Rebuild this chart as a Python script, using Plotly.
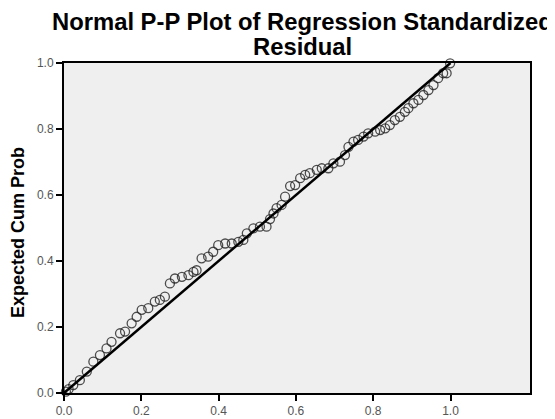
import plotly.graph_objects as go

# Observed cumulative probability (x) and expected cumulative probability (y)
observed_cum_prob = [
    0.005, 0.012, 0.024, 0.041, 0.059, 0.076, 0.093, 0.110, 0.123, 0.145,
    0.158, 0.175, 0.188, 0.201, 0.218, 0.235, 0.248, 0.261, 0.274, 0.287,
    0.305, 0.322, 0.335, 0.343, 0.356, 0.373, 0.386, 0.399, 0.417, 0.434,
    0.451, 0.464, 0.473, 0.490, 0.507, 0.524, 0.533, 0.542, 0.550, 0.563,
    0.572, 0.585, 0.598, 0.611, 0.624, 0.636, 0.654, 0.667, 0.684, 0.697,
    0.714, 0.727, 0.736, 0.749, 0.761, 0.775, 0.787, 0.805, 0.818, 0.831,
    0.843, 0.856, 0.869, 0.882, 0.891, 0.904, 0.917, 0.930, 0.943, 0.956,
    0.968, 0.981, 0.990, 0.999,
]
expected_cum_prob = [
    0.004, 0.012, 0.024, 0.039, 0.065, 0.095, 0.115, 0.135, 0.155, 0.181,
    0.186, 0.211, 0.231, 0.252, 0.257, 0.277, 0.282, 0.292, 0.332, 0.347,
    0.352, 0.357, 0.367, 0.372, 0.408, 0.413, 0.428, 0.448, 0.453, 0.453,
    0.458, 0.464, 0.484, 0.499, 0.504, 0.504, 0.527, 0.544, 0.560, 0.570,
    0.595, 0.627, 0.630, 0.651, 0.661, 0.666, 0.676, 0.681, 0.681, 0.696,
    0.701, 0.721, 0.746, 0.762, 0.767, 0.777, 0.787, 0.792, 0.797, 0.802,
    0.812, 0.827, 0.837, 0.852, 0.863, 0.878, 0.888, 0.903, 0.918, 0.933,
    0.954, 0.969, 0.969, 0.999,
]

# Reference diagonal
diag_x = [0.0, 1.0]
diag_y = [0.0, 1.0]

tick_vals = [0.0, 0.2, 0.4, 0.6, 0.8, 1.0]
tick_text = ["0.0", "0.2", "0.4", "0.6", "0.8", "1.0"]

title_lines = ["Normal P-P Plot of Regression Standardized", "Residual"]
y_title = "Expected Cum Prob"

W, H = 555, 419
OFF = 8  # page body margin offset
L, R, T, B = 64 - OFF, 25 + OFF, 63 - OFF, 26 + OFF
PW, PH = W - L - R, H - T - B
FONT = "Liberation Sans, Arial, sans-serif"


def px_x(px):
    return (px - OFF - L) / PW


def px_y(py):
    return (H - B - (py - OFF)) / PH


fig = go.Figure()
fig.add_trace(go.Scatter(
    x=observed_cum_prob, y=expected_cum_prob, mode="markers",
    marker=dict(symbol="circle-open", size=9, color="rgba(35,35,35,0.8)",
                line=dict(width=1.3, color="rgba(35,35,35,0.8)")),
    cliponaxis=False, showlegend=False, hoverinfo="x+y",
))
fig.add_trace(go.Scatter(
    x=diag_x, y=diag_y, mode="lines",
    line=dict(color="black", width=2.5),
    cliponaxis=False, showlegend=False, hoverinfo="skip",
))

axis_common = dict(
    tickvals=tick_vals, ticktext=tick_text,
    ticks="outside", ticklen=6, tickwidth=2, tickcolor="black",
    showline=True, linecolor="black", linewidth=2, mirror=True,
    showgrid=False, zeroline=False,
    tickfont=dict(family=FONT, size=12, color="#555555"),
)

fig.update_layout(
    width=W, height=H,
    margin=dict(l=L, r=R, t=T, b=B, pad=0, autoexpand=False),
    paper_bgcolor="white", plot_bgcolor="#efefef",
    xaxis=dict(range=[0, 1.2057], **axis_common),
    yaxis=dict(range=[0, 1.0], **axis_common),
)

for line_text, py in zip(title_lines, [21, 47]):
    fig.add_annotation(
        text="<b>" + line_text + "</b>",
        xref="paper", yref="paper",
        x=px_x(302), y=px_y(py),
        xanchor="center", yanchor="middle", showarrow=False,
        font=dict(family=FONT, size=23.8, color="black"),
    )

fig.add_annotation(
    text="<b>" + y_title + "</b>", textangle=-90,
    xref="paper", yref="paper",
    x=px_x(18), y=px_y(233),
    xanchor="center", yanchor="middle", showarrow=False,
    font=dict(family=FONT, size=18, color="black"),
)

fig.write_html("out.html")
